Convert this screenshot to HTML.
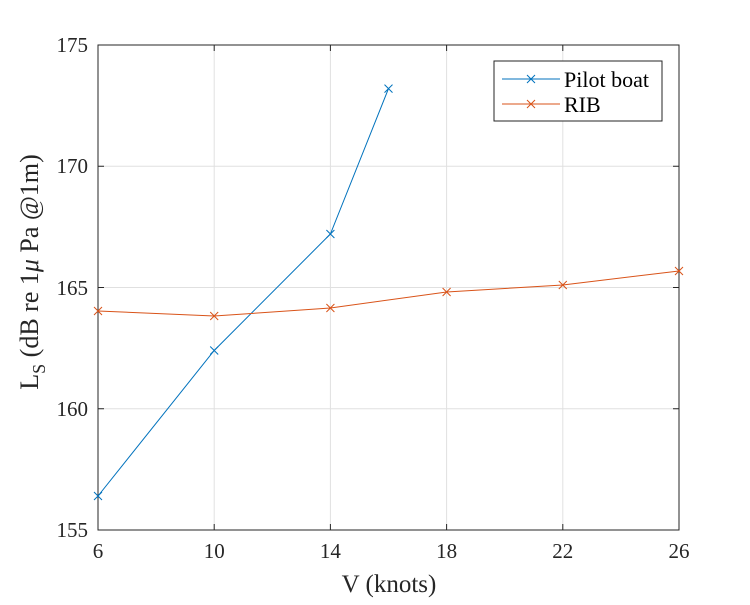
<!DOCTYPE html>
<html><head><meta charset="utf-8"><style>body{margin:0;background:#fff}</style></head><body>
<svg width="750" height="600" xmlns="http://www.w3.org/2000/svg" font-family="Liberation Serif, serif">
<rect width="750" height="600" fill="#fff"/>
<g stroke="#e0e0e0" stroke-width="1">
<line x1="214.2" y1="45" x2="214.2" y2="530"/><line x1="330.4" y1="45" x2="330.4" y2="530"/>
<line x1="446.6" y1="45" x2="446.6" y2="530"/><line x1="562.8" y1="45" x2="562.8" y2="530"/>
<line x1="98" y1="166.25" x2="679" y2="166.25"/><line x1="98" y1="287.5" x2="679" y2="287.5"/><line x1="98" y1="408.75" x2="679" y2="408.75"/>
</g>
<rect x="98" y="45" width="581" height="485" fill="none" stroke="#262626" stroke-width="1"/>
<g stroke="#262626">
<line x1="214.2" y1="530" x2="214.2" y2="524"/><line x1="330.4" y1="530" x2="330.4" y2="524"/><line x1="446.6" y1="530" x2="446.6" y2="524"/><line x1="562.8" y1="530" x2="562.8" y2="524"/>
<line x1="214.2" y1="45" x2="214.2" y2="51"/><line x1="330.4" y1="45" x2="330.4" y2="51"/><line x1="446.6" y1="45" x2="446.6" y2="51"/><line x1="562.8" y1="45" x2="562.8" y2="51"/>
<line x1="98" y1="166.25" x2="104" y2="166.25"/><line x1="98" y1="287.5" x2="104" y2="287.5"/><line x1="98" y1="408.75" x2="104" y2="408.75"/>
<line x1="679" y1="166.25" x2="673" y2="166.25"/><line x1="679" y1="287.5" x2="673" y2="287.5"/><line x1="679" y1="408.75" x2="673" y2="408.75"/>
</g>
<g font-size="21" fill="#262626" text-anchor="middle">
<text x="98" y="558">6</text><text x="214.2" y="558">10</text><text x="330.4" y="558">14</text><text x="446.6" y="558">18</text><text x="562.8" y="558">22</text><text x="679" y="558">26</text>
</g>
<g font-size="21" fill="#262626" text-anchor="end">
<text x="88" y="537">155</text><text x="88" y="416">160</text><text x="88" y="295">165</text><text x="88" y="173">170</text><text x="88" y="52">175</text>
</g>
<text x="389" y="592" font-size="25" text-anchor="middle" fill="#262626">V (knots)</text>
<text transform="translate(38,272) rotate(-90)" font-size="26" text-anchor="middle" fill="#262626">L<tspan font-size="18" dy="7">S</tspan><tspan dy="-7"> (dB re 1</tspan><tspan font-style="italic">μ</tspan> Pa @1m)</text>
<polyline points="98,496 214.2,350.5 330.4,234 388.5,88.6" fill="none" stroke="#0072BD" stroke-width="1"/>
<polyline points="98,311 214.2,316 330.4,308 446.6,292 562.8,285 679,271" fill="none" stroke="#D95319" stroke-width="1"/>
<g stroke="#0072BD" stroke-width="1">
<path d="M94,492l8,8M94,500l8,-8M210.2,346.5l8,8M210.2,354.5l8,-8M326.4,230l8,8M326.4,238l8,-8M384.5,84.6l8,8M384.5,92.6l8,-8"/>
</g>
<g stroke="#D95319" stroke-width="1">
<path d="M94,307l8,8M94,315l8,-8M210.2,312l8,8M210.2,320l8,-8M326.4,304l8,8M326.4,312l8,-8M442.6,288l8,8M442.6,296l8,-8M558.8,281l8,8M558.8,289l8,-8M675,267l8,8M675,275l8,-8"/>
</g>
<rect x="494" y="61" width="168" height="60" fill="#fff" stroke="#262626" stroke-width="1"/>
<line x1="502" y1="79" x2="560" y2="79" stroke="#0072BD"/><path d="M527,75l8,8M527,83l8,-8" stroke="#0072BD"/>
<line x1="502" y1="104" x2="560" y2="104" stroke="#D95319"/><path d="M527,100l8,8M527,108l8,-8" stroke="#D95319"/>
<text x="564" y="87" font-size="22" fill="#000">Pilot boat</text>
<text x="564" y="112" font-size="22" fill="#000">RIB</text>
</svg>
</body></html>
